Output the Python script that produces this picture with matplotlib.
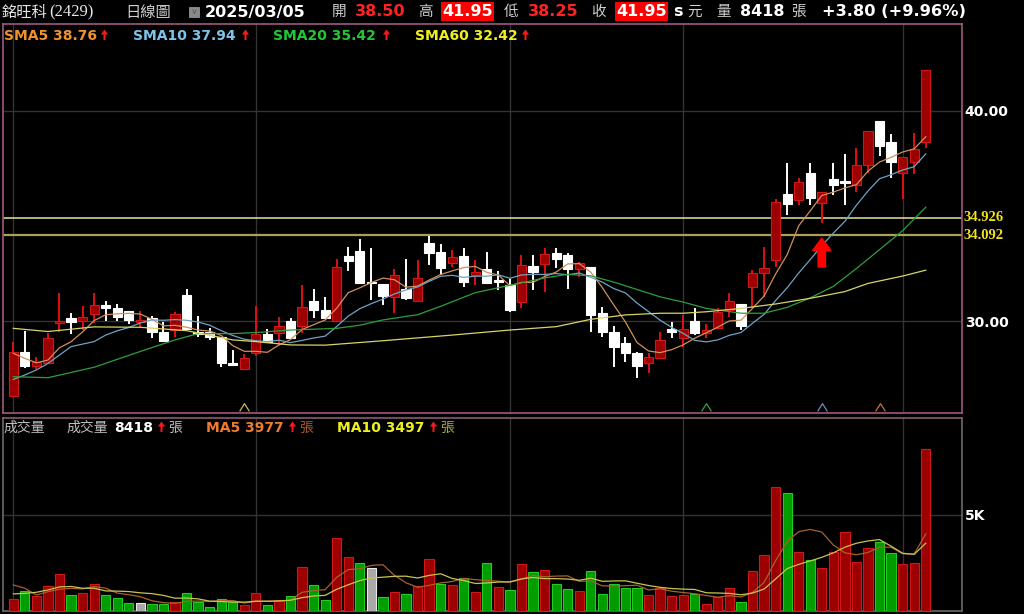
import numpy as np
import pandas as pd
import matplotlib
matplotlib.use('Agg')
import matplotlib.pyplot as plt
import matplotlib.transforms as mtransforms
from matplotlib.patches import Rectangle, Polygon
from matplotlib.path import Path

# daily OHLC, 80 sessions ending 2025/03/05
opens = [26.43, 28.51, 27.86, 28.01, 29.92, 30.16, 30.02, 30.32, 30.76, 30.63,
         30.49, 29.97, 30.16, 29.49, 29.57, 31.24, 29.49, 29.49, 29.22, 28.01,
         27.71, 28.46, 29.37, 29.41, 30.00, 29.78, 30.95, 30.52, 30.00, 33.10,
         33.35, 31.86, 31.76, 31.16, 31.51, 30.97, 33.70, 33.30, 32.75, 33.10,
         32.19, 32.46, 31.92, 31.71, 30.92, 32.62, 32.70, 33.22, 33.14, 32.46,
         32.56, 30.40, 29.49, 28.97, 28.49, 27.98, 28.22, 29.60, 29.17, 30.02,
         29.41, 29.65, 30.52, 30.81, 31.60, 32.27, 32.90, 36.05, 35.76, 37.03,
         35.60, 36.75, 36.63, 36.48, 37.43, 39.54, 38.54, 37.03, 37.59, 38.50]
highs = [29.00, 29.54, 28.27, 29.41, 31.32, 30.37, 30.73, 31.32, 30.95, 30.79,
         30.49, 30.49, 30.24, 29.97, 30.44, 31.51, 30.24, 29.65, 29.22, 28.62,
         28.41, 30.73, 29.60, 30.21, 30.16, 31.71, 31.52, 31.16, 32.94, 33.51,
         33.89, 33.46, 31.76, 32.46, 32.94, 32.90, 34.05, 33.65, 33.38, 33.46,
         32.90, 33.30, 32.40, 31.98, 33.14, 33.14, 33.46, 33.46, 33.22, 32.83,
         32.56, 30.68, 29.76, 29.22, 28.54, 28.46, 29.49, 29.97, 30.29, 30.60,
         29.86, 30.60, 31.35, 30.81, 32.43, 33.54, 35.79, 37.54, 36.79, 37.51,
         36.16, 37.54, 37.95, 38.22, 39.05, 39.54, 38.90, 37.83, 38.94, 41.95]
lows = [26.40, 27.75, 27.71, 28.01, 29.49, 29.38, 29.57, 29.89, 30.00, 30.00,
        29.84, 29.73, 29.20, 29.05, 29.25, 29.60, 29.25, 29.10, 27.79, 27.90,
        27.71, 28.35, 29.02, 28.86, 29.17, 29.41, 30.13, 30.13, 30.00, 32.40,
        31.79, 31.00, 30.76, 30.37, 31.00, 30.92, 32.67, 32.20, 32.56, 31.60,
        31.71, 31.79, 31.48, 30.43, 30.60, 31.48, 31.40, 32.51, 31.51, 32.08,
        29.49, 29.25, 27.83, 28.06, 27.27, 27.51, 28.22, 29.17, 28.78, 29.33,
        29.17, 29.65, 30.21, 29.57, 30.60, 31.16, 32.59, 35.05, 35.52, 35.52,
        34.65, 36.00, 35.52, 36.16, 37.03, 37.86, 36.83, 35.79, 37.00, 38.25]
closes = [28.52, 27.86, 28.06, 29.20, 30.00, 29.94, 30.21, 30.75, 30.60, 30.21,
          30.05, 30.05, 29.49, 29.05, 30.33, 29.60, 29.38, 29.25, 28.01, 27.90,
          28.25, 29.37, 29.02, 29.76, 29.17, 30.65, 30.52, 30.13, 32.59, 32.86,
          31.79, 31.79, 31.19, 32.19, 31.08, 32.06, 33.22, 32.51, 33.06, 31.87,
          32.35, 31.79, 31.87, 30.52, 32.67, 32.35, 33.17, 32.94, 32.46, 32.75,
          30.29, 29.49, 28.78, 28.46, 27.86, 28.27, 29.10, 29.49, 29.60, 29.44,
          29.57, 30.44, 30.97, 29.76, 32.27, 32.51, 35.68, 35.57, 36.63, 35.84,
          36.16, 36.48, 36.56, 37.43, 39.05, 38.33, 37.59, 37.83, 38.17, 41.95]
volumes = [620, 1050, 775, 1275, 1930, 830, 915, 1400, 830, 670,
           400, 400, 350, 350, 485, 915, 485, 225, 620, 450,
           295, 915, 295, 555, 800, 2270, 1350, 555, 3760, 2790,
           2480, 2220, 745, 1000, 870, 1315, 2700, 1400, 1350, 1690,
           970, 2480, 1230, 1090, 2440, 2010, 2110, 1390, 1140, 1050,
           2060, 870, 1390, 1180, 1180, 830, 1180, 765, 830, 870,
           350, 745, 1180, 485, 2060, 2900, 6420, 6120, 3050, 2640,
           2220, 3050, 4110, 2550, 3240, 3590, 3020, 2440, 2500, 8418]

# moving-average values before a full window exists
sma5_head = [28.46, 28.22, 28.01, 28.14]
sma10_head = [27.22, 27.43, 27.67, 27.98, 28.38, 28.78, 28.90, 29.02, 29.33]
vol_ma5_head = [1350, 1180, 830, 1000]
vol_ma10_head = [885, 915, 970, 1090, 1250, 1270, 1180, 1180, 1040]

# long averages
sma20_idx = [0, 3, 7, 11, 14, 16, 19, 21, 24, 28, 30, 32, 35, 37, 40, 43, 46, 48, 50,
             52, 54, 56, 58, 60, 63, 65, 67, 69, 71, 73, 75, 77, 79]
sma20_val = [27.35, 27.30, 27.80, 28.55, 29.10, 29.40, 29.40, 29.45, 29.57, 29.65, 29.80,
             30.05, 30.30, 30.70, 31.35, 31.70, 32.05, 32.22, 32.15, 31.85, 31.50, 31.15,
             30.90, 30.60, 30.37, 30.37, 30.65, 31.10, 31.65, 32.50, 33.40, 34.30, 35.42]
sma60_idx = [0, 3, 7, 11, 15, 19, 21, 24, 27, 32, 38, 43, 47, 50, 53, 56, 58, 60, 63,
             66, 69, 72, 74, 77, 79]
sma60_val = [29.65, 29.50, 29.72, 29.70, 29.54, 29.10, 29.02, 28.86, 28.85, 29.06, 29.33,
             29.57, 29.73, 30.08, 30.29, 30.37, 30.37, 30.44, 30.60, 30.81, 31.08, 31.40,
             31.79, 32.14, 32.42]

support_levels = [34.926, 34.092]
month_starts = [0, 21, 43, 58, 77]
turn_marks = [20, 60, 70, 75]
turn_colors = ['#c8b460', '#3aa040', '#6f8fc0', '#c8703a']
signal_idx = 70

n = len(closes)
x = np.arange(n)
o = np.array(opens); c = np.array(closes)
h = np.array(highs); l = np.array(lows)
v = np.array(volumes)

sma5 = pd.Series(c).rolling(5).mean().values
sma5[:4] = sma5_head
sma10 = pd.Series(c).rolling(10).mean().values
sma10[:9] = sma10_head
vma5 = pd.Series(v).rolling(5).mean().values
vma5[:4] = vol_ma5_head
vma10 = pd.Series(v).rolling(10).mean().values
vma10[:9] = vol_ma10_head

W, H = 1024, 614
fig = plt.figure(figsize=(W / 100, H / 100), dpi=100, facecolor='black')


def box(x0, y0, x1, y1):
    return [x0 / W, 1 - y1 / H, (x1 - x0) / W, (y1 - y0) / H]


ax = fig.add_axes(box(3, 24, 962, 413), facecolor='black')
axv = fig.add_axes(box(3, 418, 962, 611), facecolor='black')

xlim = (-10.3 / 11.55, 948.7 / 11.55)
for a in (ax, axv):
    a.set_xlim(*xlim)
    a.set_xticks(month_starts)
    a.tick_params(axis='x', length=0, labelbottom=False)
    a.grid(True, color='#333333', lw=1.0)
    a.set_axisbelow(True)
    a.yaxis.tick_right()
    a.tick_params(axis='y', length=0, pad=2, labelcolor='white', labelsize=10)

ax.set_ylim(25.62, 44.14)
ax.set_yticks([30, 40])
ax.set_yticklabels(['30.00', '40.00'])
axv.set_ylim(0, 10000)
axv.set_yticks([5000])
axv.set_yticklabels(['5K'])
for a in (ax, axv):
    for t in a.get_yticklabels():
        t.set_fontweight('bold')

for s in ax.spines.values():
    s.set_color('#a0587e')
    s.set_linewidth(1.2)
for s in axv.spines.values():
    s.set_color('#6a6a6a')
    s.set_linewidth(1.2)
axv.spines['top'].set_color('#8a5a72')

# candles
up = c >= o
fill = np.where(up, '#9c0000', '#ffffff')
edge = np.where(up, '#d01818', '#ffffff')
wick = np.where(up, '#e01010', '#ffffff')
ax.vlines(x, l, h, colors=wick, lw=1.4, zorder=2)
body_lo = np.minimum(o, c)
body_h = np.maximum(np.abs(c - o), 0.09)
ax.bar(x, body_h, bottom=body_lo, width=0.8, color=fill, edgecolor=edge, lw=0.8, zorder=3)

# moving averages
ax.plot(x, sma5, color='#d0905a', lw=0.9, zorder=4)
ax.plot(x, sma10, color='#6fa2c4', lw=0.9, zorder=4)
ax.plot(sma20_idx, sma20_val, color='#2e9e3c', lw=0.9, zorder=4)
ax.plot(sma60_idx, sma60_val, color='#d8d468', lw=0.9, zorder=4)

# support lines
ax.axhline(support_levels[0], color='#e4e49a', lw=1.1, zorder=1)
ax.axhline(support_levels[1], color='#aaa25c', lw=1.6, zorder=1)
blend = mtransforms.blended_transform_factory(ax.transAxes, ax.transData)
for lv in support_levels:
    ax.text(1.002, lv, f'{lv:.3f}', transform=blend, color='#f2e21e', fontsize=10.5,
            fontweight='bold', family='Liberation Serif', va='center', ha='left')

# buy signal arrow
sx = signal_idx
arrow = Polygon([(sx - 0.32, 32.57), (sx + 0.32, 32.57), (sx + 0.32, 33.35), (sx + 0.8, 33.35),
                 (sx, 33.95), (sx - 0.8, 33.35), (sx - 0.32, 33.35)],
                closed=True, color='#ff0000', zorder=5)
ax.add_patch(arrow)

# turn markers (open chevrons)
chevron = Path([(-1, -0.8), (0, 0.8), (1, -0.8)], [Path.MOVETO, Path.LINETO, Path.LINETO])
for i, col in zip(turn_marks, turn_colors):
    ax.plot(i, 25.9, marker=chevron, ms=7, mfc='none', mec=col, mew=0.9, zorder=5)

# volume
dirs = np.zeros(n)
dirs[0] = 1
dirs[1:] = np.sign(np.round(np.diff(c), 4))
vfill = np.where(dirs > 0, '#9c0000', np.where(dirs < 0, '#009c00', '#a8a8a8'))
vedge = np.where(dirs > 0, '#d01818', np.where(dirs < 0, '#22cc22', '#e8e8e8'))
axv.bar(x, v, width=0.8, color=vfill, edgecolor=vedge, lw=0.8, zorder=3)
axv.plot(x, vma5, color='#a8602e', lw=0.9, zorder=4)
axv.plot(x, vma10, color='#c8c452', lw=0.9, zorder=4)

# header text
CJK = ['Noto Sans CJK TC', 'DejaVu Sans']


def put(px, py, s, color, size, bold=False, family=None, ha='left'):
    fig.text(px / W, 1 - py / H, s, color=color, fontsize=size,
             fontweight='bold' if bold else 'normal',
             family=family or ['DejaVu Sans'], ha=ha, va='center')


def up_arrow(px, py, color='#ff1a1a'):
    # small thick arrow, px = left edge, py = vertical centre (pixels)
    pts = [(px + 2.5, py + 5), (px + 4.5, py + 5), (px + 4.5, py - 0.5), (px + 7, py - 0.5),
           (px + 3.5, py - 5.5), (px, py - 0.5), (px + 2.5, py - 0.5)]
    fig.patches.append(Polygon([(a / W, 1 - b / H) for a, b in pts], closed=True,
                               transform=fig.transFigure, facecolor=color, edgecolor='none'))


gray = '#cfcfcf'
put(2, 12, '銘旺科', '#e6e6e6', 11, family=CJK)
put(49, 12, '(2429)', '#e6e6e6', 12, family=['Liberation Serif'])
put(125, 12, '日線圖', gray, 11, family=CJK)
fig.patches.append(Rectangle((189 / W, 1 - 17 / H), 10 / W, 10 / H, transform=fig.transFigure,
                             facecolor='#8a8a8a', edgecolor='#a0a0a0', lw=0.5))
put(194, 12, 'v', '#555555', 6, ha='center')
put(205, 12, '2025/03/05', 'white', 11.5, bold=True)
put(332, 12, '開', gray, 10.5, family=CJK)
put(355, 12, '38.50', '#ff2222', 11.5, bold=True)
put(418, 12, '高', gray, 10.5, family=CJK)
fig.patches.append(Rectangle((441 / W, 1 - 21 / H), 53 / W, 19 / H, transform=fig.transFigure,
                             facecolor='#ff0000', edgecolor='none'))
put(467.5, 12, '41.95', 'white', 11.5, bold=True, ha='center')
put(504, 12, '低', gray, 10.5, family=CJK)
put(528, 12, '38.25', '#ff2222', 11.5, bold=True)
put(591, 12, '收', gray, 10.5, family=CJK)
fig.patches.append(Rectangle((615 / W, 1 - 21 / H), 53 / W, 19 / H, transform=fig.transFigure,
                             facecolor='#ff0000', edgecolor='none'))
put(641.5, 12, '41.95', 'white', 11.5, bold=True, ha='center')
put(673, 12, 's', 'white', 11.5, bold=True)
put(687, 12, '元', gray, 10.5, family=CJK)
put(716, 12, '量', gray, 10.5, family=CJK)
put(740, 12, '8418', 'white', 11.5, bold=True)
put(791, 12, '張', gray, 10.5, family=CJK)
put(822, 12, '+3.80 (+9.96%)', 'white', 11.7, bold=True)

put(4, 36, 'SMA5 38.76', '#f0922e', 10, bold=True)
up_arrow(101, 35)
put(133, 36, 'SMA10 37.94', '#7cc4ec', 10, bold=True)
up_arrow(242, 35)
put(273, 36, 'SMA20 35.42', '#22c832', 10, bold=True)
up_arrow(383, 35)
put(415, 36, 'SMA60 32.42', '#f0f020', 10, bold=True)
up_arrow(522, 35)

put(3, 428, '成交量', '#bdbdbd', 10, family=CJK)
put(66, 428, '成交量', '#bdbdbd', 10, family=CJK)
put(114, 428, '8418', 'white', 10, bold=True)
up_arrow(158, 427)
put(168, 428, '張', '#bdbdbd', 10, family=CJK)
put(206, 428, 'MA5 3977', '#f07a30', 10, bold=True)
up_arrow(289, 427)
put(299, 428, '張', '#a85a30', 10, family=CJK)
put(337, 428, 'MA10 3497', '#f0f020', 10, bold=True)
up_arrow(430, 427)
put(440, 428, '張', '#a8a838', 10, family=CJK)

fig.savefig('out.png', dpi=100, facecolor='black')
